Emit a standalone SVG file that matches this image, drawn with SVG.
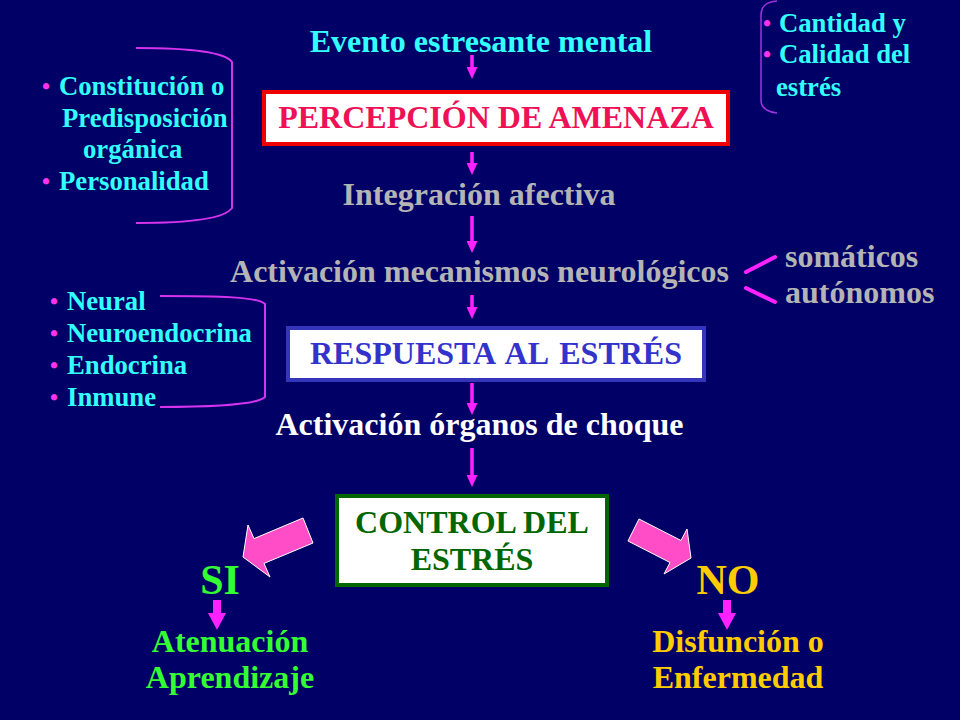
<svg xmlns="http://www.w3.org/2000/svg" width="960" height="720" viewBox="0 0 960 720">
<defs>
<style>
text{font-family:"Liberation Serif","Times New Roman",serif;font-weight:bold}
.t32{font-size:32px}
.t27{font-size:26.7px}
.bul{font-size:23px;fill:#ff33ee}
.big{font-size:42px}
.mid{text-anchor:middle}
.cyan{fill:#33ffff}
.gray{fill:#b4b4b4}
.conn{stroke:#ff22ff;fill:none}
.brk{fill:none;stroke:#d633ee;stroke-width:2}
.block{fill:#ff4dc8;stroke:#ffffff;stroke-width:1}
</style>
<marker id="ah" markerUnits="userSpaceOnUse" markerWidth="12" markerHeight="11" refX="0" refY="5.5" orient="auto">
<path d="M0,0 L12,5.5 L0,11 z" fill="#ff22ff"/>
</marker>
<marker id="ah2" markerUnits="userSpaceOnUse" markerWidth="17" markerHeight="18" refX="0" refY="9" orient="auto">
<path d="M0,0 L17,9 L0,18 z" fill="#ff22ff"/>
</marker>
</defs>
<rect x="0" y="0" width="960" height="720" fill="#000066"/>

<g id="connectors">
<line class="conn" x1="472" y1="55" x2="472" y2="67" stroke-width="3.5" marker-end="url(#ah)"/>
<line class="conn" x1="472" y1="152" x2="472" y2="163" stroke-width="3.5" marker-end="url(#ah)"/>
<line class="conn" x1="472" y1="216" x2="472" y2="241" stroke-width="3.5" marker-end="url(#ah)"/>
<line class="conn" x1="472" y1="295" x2="472" y2="307" stroke-width="3.5" marker-end="url(#ah)"/>
<line class="conn" x1="472" y1="383" x2="472" y2="403" stroke-width="3.5" marker-end="url(#ah)"/>
<line class="conn" x1="472" y1="448" x2="472" y2="475" stroke-width="3.5" marker-end="url(#ah)"/>
<line class="conn" x1="217" y1="600" x2="217" y2="613" stroke-width="8" marker-end="url(#ah2)"/>
<line class="conn" x1="727" y1="600" x2="727" y2="613" stroke-width="8" marker-end="url(#ah2)"/>
<line class="conn" x1="746" y1="272" x2="775" y2="257" stroke-width="4" stroke-linecap="round"/>
<line class="conn" x1="746" y1="288" x2="775" y2="302" stroke-width="4" stroke-linecap="round"/>
<polygon class="block" points="303,518 254,538.6 248,525 243,557 270,577 264,563.4 313,543"/>
<polygon class="block" points="639,519 681,540.5 687,529 691,558 664,574 670,562.5 628,541"/>
</g>

<g id="evento">
<text class="t32 mid cyan" x="481" y="52">Evento estresante mental</text>
</g>

<g id="percepcion">
<rect x="264" y="92" width="464" height="52" fill="#ffffff" stroke="#ee0000" stroke-width="4"/>
<text class="t32 mid" x="496" y="128" fill="#ee1155">PERCEPCIÓN DE AMENAZA</text>
</g>

<g id="integracion">
<text class="t32 mid gray" x="479" y="205">Integración afectiva</text>
</g>

<g id="activacion-mecanismos">
<text class="t32 mid gray" x="479.5" y="282">Activación mecanismos neurológicos</text>
</g>

<g id="somaticos">
<text class="t32 gray" x="785" y="267">somáticos</text>
<text class="t32 gray" x="785" y="303">autónomos</text>
</g>

<g id="respuesta">
<rect x="288" y="328" width="416" height="52" fill="#ffffff" stroke="#3535bb" stroke-width="4"/>
<text class="t32 mid" x="496" y="364" fill="#3333cc" word-spacing="4">RESPUESTA AL ESTRÉS</text>
</g>

<g id="activacion-organos">
<text class="t32 mid" x="479.5" y="435" fill="#ffffff">Activación órganos de choque</text>
</g>

<g id="control">
<rect x="337" y="496" width="270" height="89" fill="#ffffff" stroke="#006600" stroke-width="4"/>
<text class="t32 mid" x="472" y="533" fill="#006600">CONTROL DEL</text>
<text class="t32 mid" x="472" y="570" fill="#006600">ESTRÉS</text>
</g>

<g id="si">
<text class="big mid" x="220" y="594" fill="#33ff33">SI</text>
</g>

<g id="no">
<text class="big mid" x="728" y="594" fill="#ffcc00">NO</text>
</g>

<g id="atenuacion">
<text class="t32 mid" x="230" y="652" fill="#33ff33">Atenuación</text>
<text class="t32 mid" x="230" y="688" fill="#33ff33">Aprendizaje</text>
</g>

<g id="disfuncion">
<text class="t32 mid" x="738" y="652" fill="#ffcc00">Disfunción o</text>
<text class="t32 mid" x="738" y="688" fill="#ffcc00">Enfermedad</text>
</g>

<g id="lista-constitucion">
<path class="brk" d="M136,48 C190,48 225,52 232,62 L232,208 C225,218 190,223 136,223"/>
<text class="bul" x="42" y="94">•</text>
<text class="t27 cyan" x="59" y="95">Constitución o</text>
<text class="t27 cyan" x="62" y="127">Predisposición</text>
<text class="t27 cyan" x="83" y="158">orgánica</text>
<text class="bul" x="42" y="189">•</text>
<text class="t27 cyan" x="59" y="190">Personalidad</text>
</g>

<g id="lista-respuesta">
<path class="brk" d="M160,296 C220,296 258,297 265,304 L265,397 C258,404 220,407 160,407"/>
<text class="bul" x="50" y="309">•</text>
<text class="t27 cyan" x="67" y="310">Neural</text>
<text class="bul" x="50" y="341">•</text>
<text class="t27 cyan" x="67" y="342">Neuroendocrina</text>
<text class="bul" x="50" y="373">•</text>
<text class="t27 cyan" x="67" y="374">Endocrina</text>
<text class="bul" x="50" y="405">•</text>
<text class="t27 cyan" x="67" y="406">Inmune</text>
</g>

<g id="lista-cantidad">
<path fill="none" stroke="#a033dd" stroke-width="1.5" d="M777,1 C766,2 761,6 761,15 L761,100 C761,108 766,112 777,113"/>
<text class="bul" x="763" y="31">•</text>
<text class="t27 cyan" x="779" y="32">Cantidad y</text>
<text class="bul" x="763" y="62">•</text>
<text class="t27 cyan" x="779" y="63">Calidad del</text>
<text class="t27 cyan" x="776" y="96">estrés</text>
</g>
</svg>
